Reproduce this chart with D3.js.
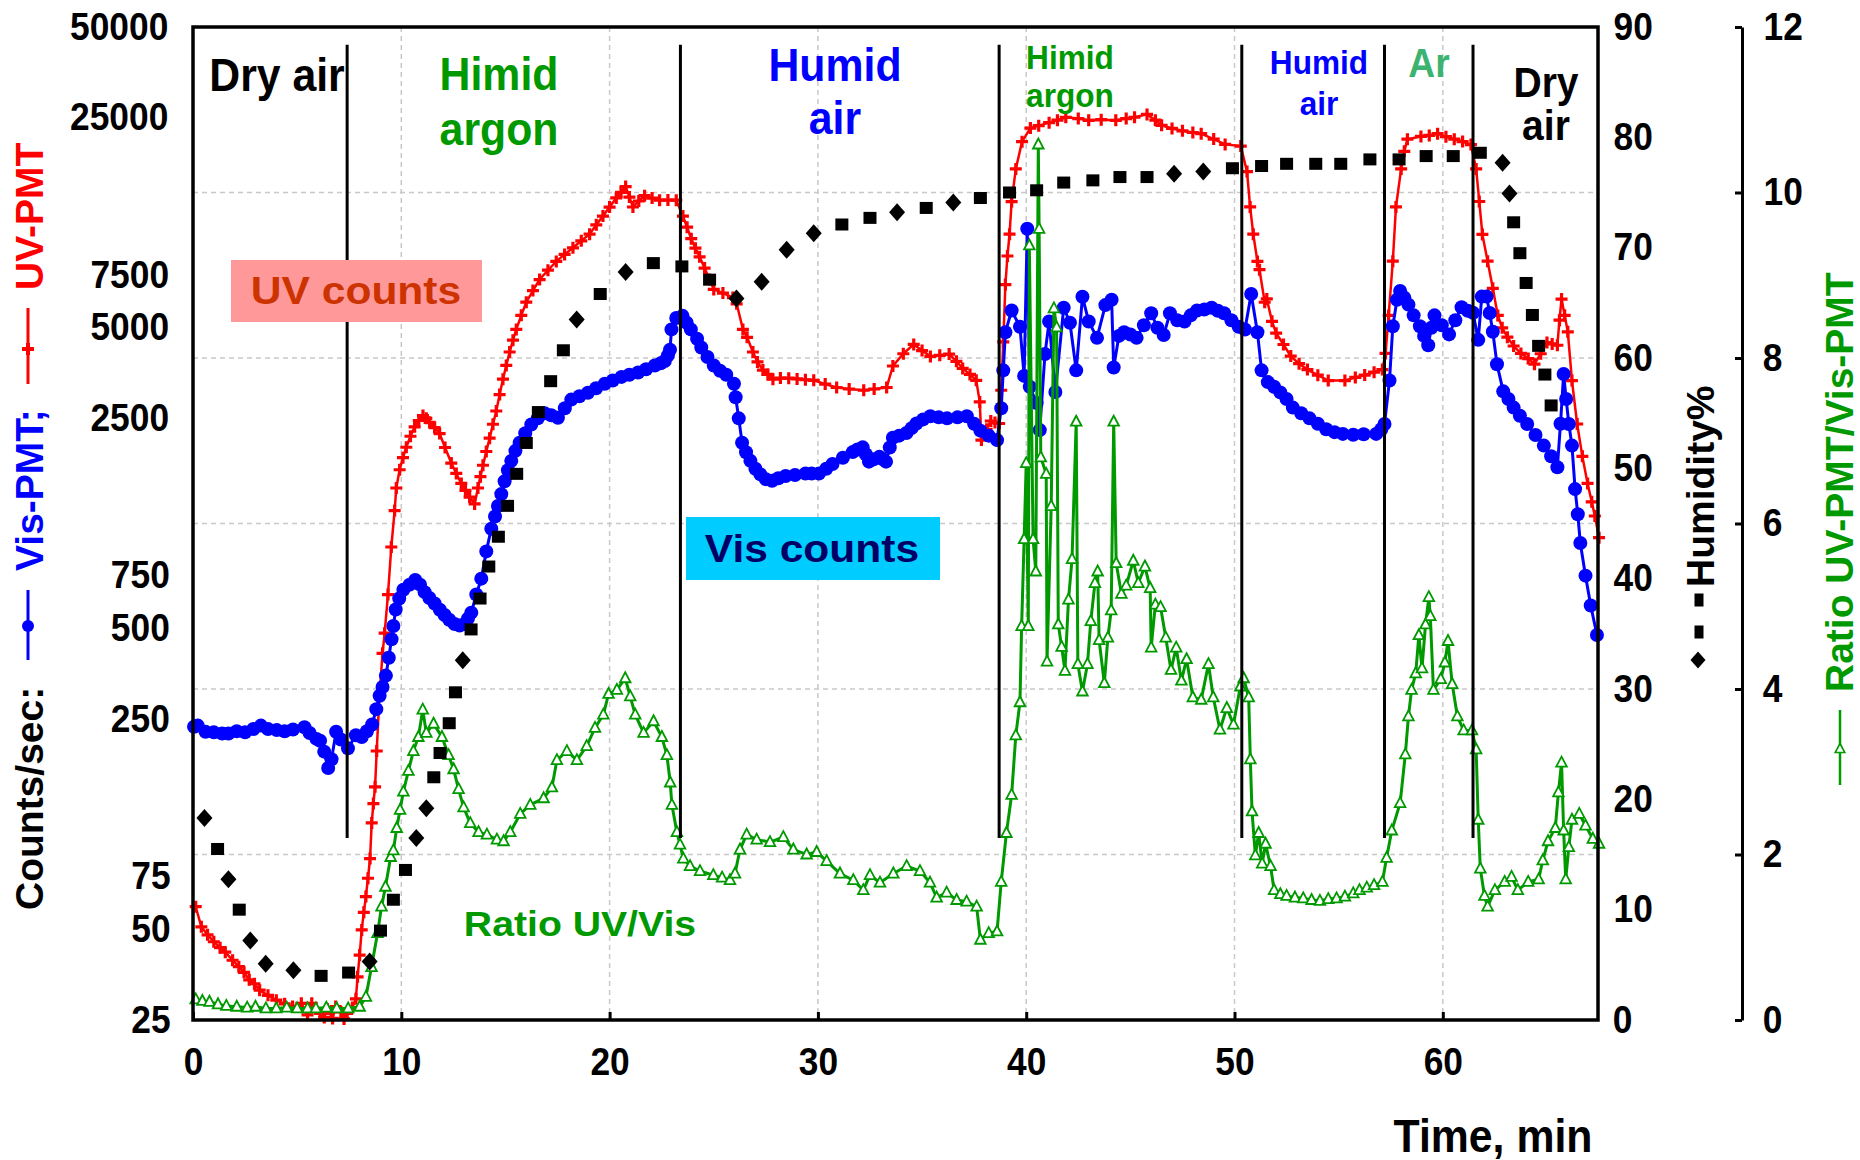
<!DOCTYPE html>
<html>
<head>
<meta charset="utf-8">
<script src="https://cdn.jsdelivr.net/npm/d3@7"></script>
<style>
body { margin: 0; background: #fff; }
svg text { font-family: "Liberation Sans", Arial, sans-serif; font-weight: bold; }
.nar { transform-box: fill-box; transform-origin: center; transform: scaleX(0.93); }
.wide { transform-box: fill-box; transform-origin: center; transform: scaleX(1.12); }
</style>
</head>
<body>
<svg id="chart" width="1860" height="1160"></svg>
<script>
'use strict'

// ---- data ----
const timeTicks = [0, 10, 20, 30, 40, 50, 60]
const countTicks = [25, 50, 75, 250, 500, 750, 2500, 5000, 7500, 25000, 50000]
const humTicks = [0, 10, 20, 30, 40, 50, 60, 70, 80, 90]
const ratioTicks = [0, 2, 4, 6, 8, 10, 12]

// gas switch times (min)
const sepTimes = [7.4, 23.4, 38.7, 50.35, 57.2, 61.45]
const sepTopHum = 88.4, sepBottomHum = 16.5

const sectionNames = [["Dry air"], ["Himid", "argon"], ["Humid", "air"], ["Himid", "argon"], ["Humid", "air"], ["Ar"], ["Dry", "air"]]

// Vis-PMT counts/sec  [time, counts]
const visData = [[0.05,236],[0.23,238],[0.6,227],[1.0,226],[1.4,224],[1.7,224],[2.1,228],[2.5,226],[2.9,232],[3.26,238],[3.6,232],[4.02,230],[4.4,228],[4.8,231],[5.35,235],[5.6,225],[5.93,215],[6.1,212],[6.3,195],[6.49,172],[6.65,184],[6.87,227],[7.1,214],[7.44,200],[7.82,221],[8.1,218],[8.35,228],[8.6,240],[8.8,270],[8.96,299],[9.1,320],[9.26,349],[9.4,400],[9.53,461],[9.62,510],[9.73,579],[9.9,630],[10.1,673],[10.4,700],[10.67,726],[10.9,700],[11.12,661],[11.35,632],[11.6,606],[11.85,578],[12.08,555],[12.3,535],[12.56,518],[12.8,512],[13.04,518],[13.2,540],[13.36,565],[13.6,649],[13.84,733],[14.08,903],[14.32,1074],[14.5,1180],[14.64,1278],[14.8,1400],[14.96,1545],[15.12,1680],[15.28,1806],[15.48,1950],[15.68,2075],[15.95,2230],[16.24,2385],[16.55,2500],[16.88,2600],[17.2,2560],[17.52,2513],[17.85,2700],[18.16,2886],[18.55,2960],[18.96,3040],[19.35,3150],[19.77,3260],[20.15,3340],[20.57,3434],[20.95,3490],[21.37,3553],[21.75,3640],[22.17,3745],[22.45,3810],[22.65,3879],[22.8,4050],[22.9,4225],[22.97,4940],[23.2,5390],[23.5,5480],[23.7,5200],[23.9,4940],[24.2,4600],[24.4,4300],[24.7,4000],[25.0,3745],[25.3,3600],[25.6,3490],[25.97,3260],[26.05,2937],[26.2,2500],[26.36,2075],[26.55,1930],[26.76,1806],[27.0,1700],[27.24,1628],[27.5,1570],[27.8,1550],[28.1,1580],[28.45,1608],[28.9,1620],[29.4,1638],[29.7,1640],[30.05,1638],[30.4,1700],[30.7,1763],[31.2,1850],[31.67,1931],[31.9,1970],[32.15,2003],[32.3,1900],[32.45,1795],[32.7,1830],[32.95,1862],[33.1,1830],[33.27,1795],[33.45,2000],[33.6,2155],[33.9,2190],[34.25,2234],[34.5,2320],[34.73,2404],[35.05,2480],[35.4,2541],[35.8,2520],[36.2,2500],[36.7,2520],[37.15,2541],[37.5,2400],[37.8,2276],[38.2,2190],[38.6,2117],[38.8,2700],[38.9,3610],[39.0,4835],[39.3,5710],[39.7,5040],[39.9,3460],[40.05,10670],[40.17,3185],[40.5,2810],[40.65,2285],[40.9,4090],[41.1,5250],[41.4,3060],[41.8,5830],[42.1,5200],[42.4,3610],[42.7,6340],[43.0,5250],[43.4,4630],[43.8,5950],[44.1,6200],[44.2,3690],[44.45,4700],[44.7,4835],[45.0,4750],[45.3,4630],[45.65,5100],[46.0,5590],[46.3,5000],[46.6,4730],[46.9,5590],[47.25,5300],[47.6,5250],[47.9,5500],[48.2,5710],[48.55,5750],[48.9,5830],[49.2,5700],[49.5,5590],[49.85,5300],[50.2,5040],[50.5,4935],[50.8,6480],[51.1,4835],[51.3,3610],[51.6,3300],[51.9,3185],[52.2,3050],[52.5,2900],[52.8,2715],[53.2,2600],[53.6,2500],[54.0,2400],[54.4,2300],[54.8,2250],[55.2,2220],[55.7,2205],[56.2,2215],[56.8,2220],[57.05,2300],[57.2,2395],[57.44,3340],[57.6,5060],[57.8,6200],[57.95,6630],[58.15,6300],[58.35,5970],[58.6,5500],[58.9,5060],[59.1,4700],[59.3,4375],[59.45,5000],[59.6,5500],[59.95,5100],[60.3,4755],[60.6,5300],[60.9,5850],[61.2,5700],[61.45,5610],[61.7,4560],[61.87,6350],[62.1,6350],[62.25,5600],[62.4,4850],[62.6,3785],[62.9,3075],[63.15,2900],[63.4,2715],[63.7,2550],[64.05,2395],[64.45,2200],[64.85,2030],[65.2,1870],[65.5,1720],[65.65,2400],[65.8,3510],[65.92,2900],[66.05,2395],[66.2,2030],[66.35,1455],[66.48,1200],[66.6,963],[66.85,750],[67.1,597],[67.4,476]]

// UV-PMT counts/sec  [time, counts]
const uvData = [[0.13,59.5],[0.4,51],[0.7,48],[1.0,45.5],[1.3,43.5],[1.55,42],[1.9,39.5],[2.2,37.6],[2.45,36],[2.7,34],[2.95,33],[3.2,31.4],[3.6,30.2],[4.0,29.1],[4.4,28.3],[4.78,27.7],[5.2,28.4],[5.5,26],[5.7,28.4],[6.1,26.3],[6.3,25.5],[6.45,27.2],[6.7,25.3],[6.85,27.7],[7.1,26.6],[7.25,25.2],[7.4,26.3],[7.65,27.5],[7.82,29.4],[7.9,34.8],[8.0,41.1],[8.1,49.8],[8.2,57],[8.3,64.3],[8.4,74],[8.5,86],[8.58,113],[8.66,131],[8.74,149],[8.82,196],[8.95,298],[9.1,414],[9.2,483],[9.36,649],[9.52,934],[9.68,1234],[9.76,1467],[9.92,1687],[10.08,1850],[10.24,2004],[10.44,2180],[10.64,2344],[10.84,2460],[11.04,2555],[11.2,2500],[11.36,2426],[11.6,2330],[11.84,2225],[12.1,2000],[12.4,1776],[12.64,1640],[12.88,1519],[13.08,1440],[13.28,1369],[13.52,1299],[13.68,1467],[13.8,1600],[13.92,1746],[14.08,1940],[14.24,2149],[14.4,2390],[14.56,2645],[14.72,3000],[14.88,3374],[15.04,3750],[15.2,4155],[15.36,4550],[15.52,4940],[15.76,5500],[16.0,6083],[16.32,6650],[16.64,7236],[17.04,7770],[17.44,8312],[17.84,8770],[18.24,9226],[18.64,9730],[19.04,10236],[19.36,11000],[19.68,11757],[20.0,12600],[20.32,13513],[20.55,14100],[20.77,14736],[20.95,13600],[21.12,12608],[21.4,13200],[21.68,13745],[22.04,13500],[22.4,13280],[22.8,13300],[23.2,13280],[23.52,11757],[23.72,10800],[23.92,9890],[24.12,9200],[24.32,8610],[24.56,7900],[24.8,7236],[25.0,6710],[25.44,6523],[25.92,6301],[26.1,6010],[26.4,4940],[26.6,4650],[26.88,4155],[27.1,3850],[27.36,3618],[27.6,3500],[27.84,3374],[28.2,3404],[28.6,3400],[29.0,3380],[29.4,3360],[29.8,3346],[30.35,3250],[30.9,3166],[31.5,3130],[32.2,3100],[32.7,3130],[33.3,3166],[33.6,3733],[34.1,4100],[34.6,4404],[35.0,4200],[35.4,4018],[35.85,4050],[36.3,4090],[36.65,3870],[36.95,3664],[37.3,3500],[37.6,3346],[37.77,2836],[37.85,2117],[38.1,2300],[38.3,2450],[38.5,2420],[38.7,2404],[38.8,3100],[38.9,4487],[39.0,6960],[39.1,8663],[39.2,10236],[39.3,13140],[39.5,16870],[39.8,20780],[40.2,23070],[40.6,23500],[41.1,24040],[41.5,24500],[41.9,25060],[42.5,24800],[43.0,24470],[43.6,24600],[44.3,24470],[44.8,24800],[45.2,25060],[45.8,25610],[46.2,24500],[46.5,23560],[47.0,23000],[47.5,22590],[48.0,22300],[48.4,22100],[49.0,21200],[49.55,20360],[50.3,20100],[50.6,16530],[50.75,12610],[50.9,10236],[51.1,8312],[51.2,7800],[51.45,6080],[51.55,6237],[51.8,5253],[52.0,4800],[52.35,4400],[52.7,4027],[53.1,3800],[53.5,3631],[54.0,3480],[54.5,3340],[55.3,3340],[55.8,3420],[56.25,3483],[56.7,3560],[57.1,3631],[57.25,4111],[57.4,5499],[57.6,8326],[57.75,12610],[58.0,16870],[58.15,19300],[58.3,21180],[58.95,21630],[59.35,21800],[59.75,22090],[60.15,21600],[60.55,21180],[60.95,20800],[61.35,20330],[61.6,16870],[61.75,13150],[61.9,10220],[62.15,8326],[62.4,6767],[62.64,5499],[62.85,5000],[63.1,4656],[63.4,4350],[63.75,4111],[64.1,3950],[64.4,3785],[64.7,4100],[65.0,4468],[65.25,4420],[65.5,4375],[65.6,5300],[65.7,6229],[65.85,5500],[66.0,4850],[66.2,3340],[66.45,2395],[66.7,1869],[66.95,1519],[67.15,1320],[67.3,1184],[67.5,1003]]

// Ratio UV-PMT / Vis-PMT  [time, ratio]
const ratioData = [[0.13,0.25],[0.45,0.23],[0.79,0.22],[1.2,0.19],[1.6,0.17],[2.1,0.16],[2.6,0.15],[3.0,0.16],[3.5,0.14],[4.0,0.14],[4.5,0.15],[5.0,0.14],[5.5,0.14],[5.9,0.14],[6.4,0.15],[6.9,0.14],[7.45,0.14],[8.0,0.16],[8.3,0.28],[8.57,0.64],[8.86,1.05],[9.05,1.37],[9.24,1.61],[9.49,1.97],[9.62,2.05],[9.78,2.32],[9.94,2.54],[10.1,2.76],[10.34,3.01],[10.58,3.25],[10.82,3.42],[11.03,3.75],[11.2,3.47],[11.55,3.58],[11.95,3.42],[12.27,3.2],[12.51,3.03],[12.75,2.79],[12.99,2.57],[13.31,2.38],[13.71,2.27],[14.11,2.24],[14.59,2.18],[14.91,2.16],[15.23,2.27],[15.71,2.49],[16.19,2.6],[16.83,2.68],[17.23,2.81],[17.47,3.14],[17.95,3.25],[18.43,3.14],[18.9,3.31],[19.3,3.53],[19.7,3.69],[19.95,3.94],[20.35,3.99],[20.75,4.13],[20.99,3.91],[21.23,3.69],[21.63,3.47],[22.11,3.61],[22.51,3.42],[22.75,3.2],[22.91,2.87],[22.99,2.6],[23.23,2.27],[23.38,2.12],[23.54,1.95],[23.86,1.86],[24.34,1.8],[24.98,1.75],[25.4,1.72],[25.78,1.69],[26.02,1.77],[26.26,2.06],[26.58,2.24],[27.06,2.18],[27.7,2.15],[28.34,2.21],[28.82,2.06],[29.46,2.0],[29.94,2.03],[30.42,1.92],[31.06,1.77],[31.7,1.69],[32.18,1.57],[32.5,1.75],[32.98,1.66],[33.62,1.77],[34.26,1.86],[34.9,1.8],[35.38,1.66],[35.7,1.48],[36.18,1.54],[36.66,1.45],[37.14,1.43],[37.62,1.37],[37.8,0.97],[38.2,1.05],[38.6,1.07],[38.8,1.67],[39.05,2.26],[39.3,2.72],[39.5,3.44],[39.7,3.84],[39.78,4.76],[39.9,5.81],[40.0,6.73],[40.1,4.76],[40.15,9.36],[40.33,5.81],[40.46,5.42],[40.58,10.58],[40.62,9.56],[40.7,6.8],[40.96,6.6],[41.0,4.33],[41.2,6.21],[41.33,8.6],[41.46,8.37],[41.54,4.78],[41.7,4.51],[41.86,4.22],[42.03,5.08],[42.2,5.57],[42.4,7.23],[42.48,4.3],[42.7,3.97],[42.94,4.3],[43.1,4.82],[43.3,5.28],[43.43,5.42],[43.5,4.59],[43.75,4.07],[43.92,4.62],[44.08,4.95],[44.2,7.23],[44.32,5.52],[44.57,5.15],[44.8,5.25],[45.14,5.55],[45.38,5.28],[45.7,5.48],[45.95,5.22],[46.0,4.5],[46.2,5.02],[46.45,4.99],[46.7,4.62],[46.95,4.23],[47.2,4.5],[47.45,4.1],[47.7,4.36],[48.0,3.9],[48.4,3.87],[48.75,4.3],[48.98,3.9],[49.3,3.51],[49.63,3.77],[49.95,3.57],[50.28,4.03],[50.44,4.13],[50.68,3.9],[50.76,3.15],[50.84,2.52],[51.0,1.99],[51.16,2.26],[51.33,1.89],[51.49,2.13],[51.73,1.86],[51.9,1.57],[52.2,1.52],[52.5,1.5],[52.9,1.48],[53.3,1.47],[53.7,1.45],[54.1,1.44],[54.5,1.46],[54.9,1.47],[55.3,1.49],[55.7,1.53],[56.0,1.57],[56.35,1.6],[56.7,1.63],[57.1,1.67],[57.3,1.96],[57.55,2.29],[57.95,2.62],[58.2,3.21],[58.35,3.67],[58.5,3.99],[58.7,4.19],[58.85,4.65],[59.0,4.25],[59.17,4.78],[59.33,5.11],[59.4,4.88],[59.55,3.99],[59.9,4.12],[60.1,4.32],[60.25,4.58],[60.45,4.06],[60.7,3.67],[61.0,3.5],[61.4,3.5],[61.6,3.27],[61.7,2.42],[61.8,1.83],[62.0,1.5],[62.15,1.37],[62.5,1.57],[62.97,1.67],[63.3,1.73],[63.6,1.57],[64.1,1.67],[64.6,1.7],[64.8,1.93],[65.05,2.16],[65.4,2.32],[65.55,2.75],[65.7,3.11],[65.8,2.29],[65.9,1.7],[66.05,2.09],[66.2,2.42],[66.55,2.49],[66.85,2.35],[67.2,2.19],[67.5,2.13]]

// Humidity %  [time, humidity]
const humData = [[0.55,18.3],[1.18,15.5],[1.7,12.75],[2.22,10.0],[2.75,7.2],[3.49,5.1],[4.82,4.5],[6.15,4.0],[7.47,4.3],[8.48,5.3],[9.0,8.1],[9.62,10.9],[10.2,13.6],[10.72,16.5],[11.2,19.2],[11.56,22.0],[11.86,24.2],[12.3,26.9],[12.6,29.7],[12.95,32.6],[13.35,35.4],[13.78,38.2],[14.2,41.1],[14.66,43.8],[15.1,46.6],[15.54,49.5],[16.0,52.3],[16.58,55.1],[17.17,57.9],[17.78,60.7],[18.42,63.5],[19.55,65.8],[20.77,67.8],[22.1,68.6],[23.47,68.3],[24.8,67.1],[26.09,65.4],[27.3,66.9],[28.5,69.8],[29.8,71.3],[31.15,72.1],[32.5,72.7],[33.8,73.2],[35.2,73.6],[36.5,74.1],[37.8,74.5],[39.2,75.0],[40.5,75.2],[41.8,75.9],[43.2,76.1],[44.5,76.4],[45.8,76.4],[47.1,76.7],[48.5,76.9],[49.9,77.2],[51.3,77.4],[52.5,77.6],[53.9,77.6],[55.1,77.6],[56.5,78.0],[57.9,78.0],[59.2,78.3],[60.5,78.3],[61.8,78.6],[62.87,77.7],[63.2,74.9],[63.4,72.3],[63.7,69.5],[64.0,66.8],[64.3,63.9],[64.6,61.1],[64.9,58.5],[65.2,55.7]]
// humidity points drawn as diamonds (the rest are square dots)
const humDiamondTimes = [0.55, 1.7, 2.75, 3.49, 4.82, 8.48, 10.72, 11.2, 12.95, 18.42, 20.77, 26.09, 27.3, 28.5, 29.8, 33.8, 36.5, 47.1, 48.5, 62.87, 63.2]


function drawChart(){
  const L = 193, R = 1598, T = 27, B = 1020

  const x = d3.scaleLinear().domain([0, 67.45]).range([L, R])
  const yCount = d3.scaleLog().domain([25, 50000]).range([B, T])
  const yHum = d3.scaleLinear().domain([0, 90]).range([B, T])
  const yRatio = d3.scaleLinear().domain([0, 12]).range([B, T])

  const svg = d3.select("#chart")

  //gridlines
  const grid = svg.append("g")
    .attr("stroke", "#c8c8c8")
    .attr("stroke-width", 1.5)
    .attr("stroke-dasharray", "5,4")
  grid.selectAll(".gx").data(timeTicks.filter(d => d > 0)).join("line")
    .attr("class", "gx")
    .attr("x1", d => x(d)).attr("x2", d => x(d))
    .attr("y1", T).attr("y2", B)
  grid.selectAll(".gy").data(ratioTicks.filter(d => d > 0 && d < 12)).join("line")
    .attr("class", "gy")
    .attr("x1", L).attr("x2", R)
    .attr("y1", d => yRatio(d)).attr("y2", d => yRatio(d))

  // UV-PMT (red, + markers)
  const lineCount = d3.line().x(d => x(d[0])).y(d => yCount(d[1]))
  svg.append("path").datum(uvData)
    .attr("d", lineCount)
    .attr("fill", "none")
    .attr("stroke", "#ff0000")
    .attr("stroke-width", 2.5)
  svg.append("g").selectAll("path").data(uvData).join("path")
    .attr("transform", d => "translate(" + x(d[0]) + "," + yCount(d[1]) + ")")
    .attr("d", "M-6,0H6M0,-6V6")
    .attr("stroke", "#ff0000")
    .attr("stroke-width", 3.2)

  // Vis-PMT (blue, dots)
  svg.append("path").datum(visData)
    .attr("d", lineCount)
    .attr("fill", "none")
    .attr("stroke", "#0000ff")
    .attr("stroke-width", 3)
  svg.append("g").selectAll("circle").data(visData).join("circle")
    .attr("cx", d => x(d[0]))
    .attr("cy", d => yCount(d[1]))
    .attr("r", 7)
    .attr("fill", "#0000ff")

  // ratio (green, open triangles)
  const lineRatio = d3.line().x(d => x(d[0])).y(d => yRatio(d[1]))
  svg.append("path").datum(ratioData)
    .attr("d", lineRatio)
    .attr("fill", "none")
    .attr("stroke", "#009900")
    .attr("stroke-width", 3)
  svg.append("g").selectAll("path").data(ratioData).join("path")
    .attr("transform", d => "translate(" + x(d[0]) + "," + yRatio(d[1]) + ")")
    .attr("d", "M0,-6L5.3,4L-5.3,4Z")
    .attr("fill", "#fff")
    .attr("stroke", "#009900")
    .attr("stroke-width", 1.8)

  // humidity (black square dots + diamonds)
  const isDiamond = d => humDiamondTimes.indexOf(d[0]) >= 0
  svg.append("g").selectAll("rect").data(humData.filter(d => !isDiamond(d))).join("rect")
    .attr("x", d => x(d[0]) - 6.5)
    .attr("y", d => yHum(d[1]) - 6)
    .attr("width", 13)
    .attr("height", 12)
    .attr("fill", "#000")
  svg.append("g").selectAll("path").data(humData.filter(isDiamond)).join("path")
    .attr("transform", d => "translate(" + x(d[0]) + "," + yHum(d[1]) + ")")
    .attr("d", "M0,-9L8,0L0,9L-8,0Z")
    .attr("fill", "#000")

  // separators between gas phases
  svg.append("g").selectAll("line").data(sepTimes).join("line")
    .attr("x1", d => x(d)).attr("x2", d => x(d))
    .attr("y1", yHum(sepTopHum)).attr("y2", yHum(sepBottomHum))
    .attr("stroke", "#000")
    .attr("stroke-width", 3)

  // plot frame
  svg.append("rect")
    .attr("x", L).attr("y", T)
    .attr("width", R - L).attr("height", B - T)
    .attr("fill", "none")
    .attr("stroke", "#000")
    .attr("stroke-width", 3.5)

  // axes
  function styleAxis(g){
    g.attr("font-family", null).attr("font-size", null)
    g.selectAll("text").attr("class", "nar").attr("font-size", 38).attr("fill", "#000")
    g.selectAll(".tick line").attr("stroke", "#000").attr("stroke-width", 3)
  }

  svg.append("g").attr("transform", "translate(0," + B + ")")
    .call(d3.axisBottom(x).tickValues(timeTicks).tickSizeInner(-8).tickSizeOuter(0).tickPadding(28))
    .call(g => g.select(".domain").remove())
    .call(styleAxis)

  svg.append("g").attr("transform", "translate(" + L + ",0)")
    .call(d3.axisLeft(yCount).tickValues(countTicks).tickSize(0).tickPadding(21).tickFormat(d3.format("d")))
    .call(g => g.select(".domain").remove())
    .call(styleAxis)

  svg.append("g").attr("transform", "translate(" + R + ",0)")
    .call(d3.axisRight(yHum).tickValues(humTicks).tickSize(0).tickPadding(14))
    .call(g => g.select(".domain").remove())
    .call(styleAxis)

  svg.append("g").attr("transform", "translate(1742,0)")
    .call(d3.axisRight(yRatio).tickValues(ratioTicks).tickSizeInner(-7).tickSizeOuter(0).tickPadding(20))
    .call(g => g.select(".domain").attr("stroke", "#000").attr("stroke-width", 3))
    .call(styleAxis)

  // gas phase labels
  const labelSpots = [
    {cx: 277, base: [91], size: 46, color: "#000"},
    {cx: 499, base: [90, 145], size: 46, color: "#009900"},
    {cx: 835, base: [81, 134], size: 46, color: "#0000ff"},
    {cx: 1070, base: [69, 107], size: 34, color: "#009900"},
    {cx: 1319, base: [74, 115], size: 34, color: "#0000ff"},
    {cx: 1429, base: [77], size: 40, color: "#3cb371"},
    {cx: 1546, base: [97, 140], size: 42, color: "#000"}
  ]
  sectionNames.forEach(function(lines, i){
    let s = labelSpots[i]
    lines.forEach(function(txt, j){
      svg.append("text")
        .attr("class", "nar")
        .attr("x", s.cx).attr("y", s.base[j])
        .attr("text-anchor", "middle")
        .attr("font-size", s.size)
        .attr("fill", s.color)
        .text(txt)
    })
  })

  // boxed series labels
  svg.append("rect").attr("x", 231).attr("y", 260).attr("width", 251).attr("height", 62).attr("fill", "#ff9999")
  svg.append("text").attr("class", "wide").attr("x", 356).attr("y", 304)
    .attr("text-anchor", "middle").attr("font-size", 38).attr("fill", "#cc3300").text("UV counts")

  svg.append("rect").attr("x", 686).attr("y", 517).attr("width", 254).attr("height", 63).attr("fill", "#00ccff")
  svg.append("text").attr("class", "wide").attr("x", 812).attr("y", 562)
    .attr("text-anchor", "middle").attr("font-size", 38).attr("fill", "#000066").text("Vis counts")

  svg.append("text").attr("class", "wide").attr("x", 580).attr("y", 936)
    .attr("text-anchor", "middle").attr("font-size", 35).attr("fill", "#009900").text("Ratio UV/Vis")

  // x title
  svg.append("text").attr("class", "nar").attr("x", 1493).attr("y", 1152)
    .attr("text-anchor", "middle").attr("font-size", 46).attr("fill", "#000").text("Time, min")

  // left title with legend symbols (rotated; x' = -screenY, y' = screenX)
  const lt = svg.append("g").attr("transform", "rotate(-90)").attr("font-size", 39)
  lt.append("text").attr("x", -910).attr("y", 43).attr("fill", "#000").text("Counts/sec:")
  lt.append("line").attr("x1", -660).attr("x2", -590).attr("y1", 28).attr("y2", 28)
    .attr("stroke", "#0000ff").attr("stroke-width", 3)
  lt.append("circle").attr("cx", -626).attr("cy", 28).attr("r", 6).attr("fill", "#0000ff")
  lt.append("text").attr("x", -571).attr("y", 43).attr("fill", "#0000ff").text("Vis-PMT;")
  lt.append("line").attr("x1", -384).attr("x2", -308).attr("y1", 28).attr("y2", 28)
    .attr("stroke", "#ff0000").attr("stroke-width", 3)
  lt.append("path").attr("transform", "translate(-349,28)").attr("d", "M-6,0H6M0,-6V6")
    .attr("stroke", "#ff0000").attr("stroke-width", 4)
  lt.append("text").attr("x", -290).attr("y", 43).attr("fill", "#ff0000").text("UV-PMT")

  // humidity title
  const ht = svg.append("g").attr("transform", "rotate(-90)").attr("font-size", 39)
  ht.append("text").attr("x", -587).attr("y", 1714).attr("fill", "#000").text("Humidity%")
  ht.selectAll("rect").data([600, 632]).join("rect")
    .attr("x", d => -d - 6.5).attr("y", 1694.5).attr("width", 13).attr("height", 9).attr("fill", "#000")
  ht.append("path").attr("transform", "translate(-660,1698)").attr("d", "M-8.5,0L0,7.5L8.5,0L0,-7.5Z").attr("fill", "#000")

  // ratio title
  const rt = svg.append("g").attr("transform", "rotate(-90)").attr("font-size", 39)
  rt.append("text").attr("x", -692).attr("y", 1853).attr("fill", "#009900").text("Ratio UV-PMT/Vis-PMT")
  rt.append("line").attr("x1", -785).attr("x2", -710).attr("y1", 1840).attr("y2", 1840)
    .attr("stroke", "#009900").attr("stroke-width", 2.5)
  svg.append("path").attr("transform", "translate(1840,749)").attr("d", "M0,-5.5L4.8,3.5L-4.8,3.5Z")
    .attr("fill", "#fff").attr("stroke", "#009900").attr("stroke-width", 1.6)
}

drawChart()
</script>
</body>
</html>
